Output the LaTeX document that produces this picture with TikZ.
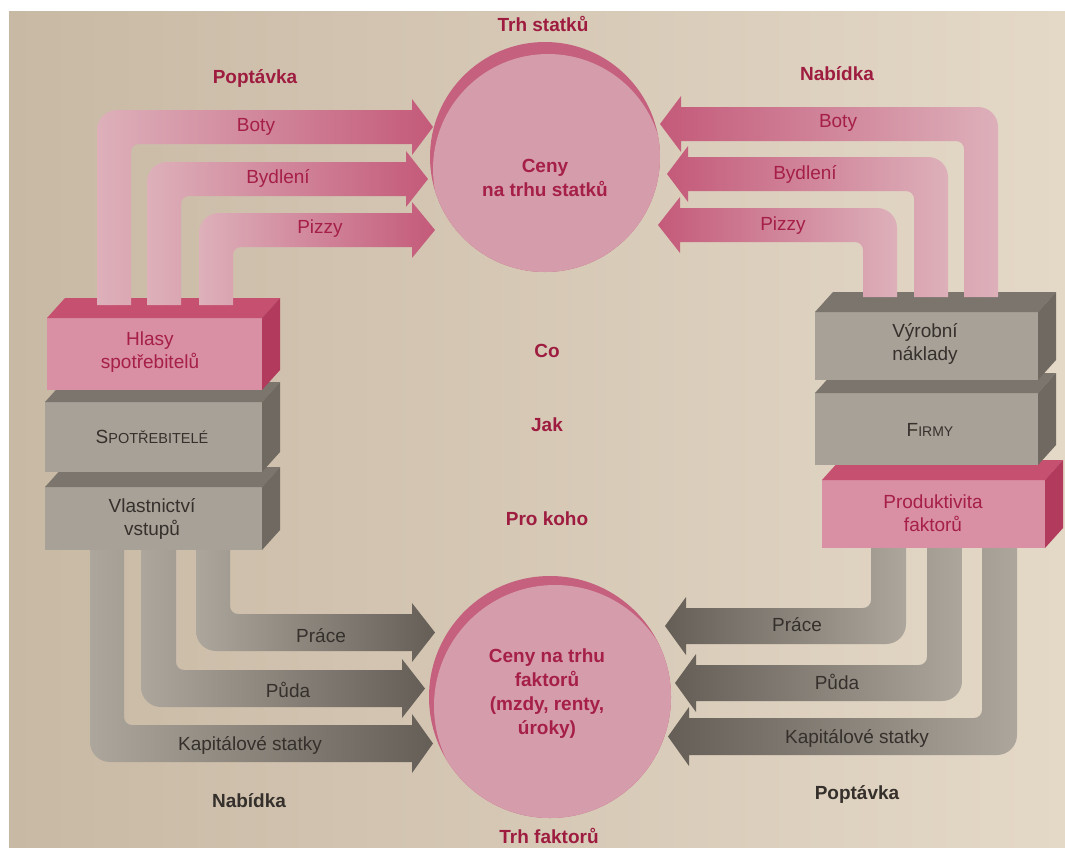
\documentclass[tikz,border=0pt]{standalone}
\usepackage{fontspec}
\setmainfont{Liberation Sans}
\definecolor{pageL}{HTML}{C8B9A4}
\definecolor{pageR}{HTML}{E4D8C7}
\definecolor{pinkLight}{HTML}{DDB0BA}
\definecolor{pinkDark}{HTML}{C45A7A}
\definecolor{pinkText}{HTML}{A51F48}
\definecolor{circFill}{HTML}{D59CAC}
\definecolor{circRim}{HTML}{C5607E}
\definecolor{grayLight}{HTML}{ADA69C}
\definecolor{grayDark}{HTML}{645E57}
\definecolor{boxGray}{HTML}{A8A198}
\definecolor{boxGrayTop}{HTML}{7B756D}
\definecolor{boxGraySide}{HTML}{6F6961}
\definecolor{boxPink}{HTML}{D98FA4}
\definecolor{boxPinkTop}{HTML}{C5506F}
\definecolor{boxPinkSide}{HTML}{B23A5C}
\definecolor{darkText}{HTML}{35302C}
\definecolor{redLabel}{HTML}{9E1C40}

% L-shaped flow arrow, tail going down from a box top, head pointing right
% args: x-left x-right y-top y-bottom y-tail x-headbase x-tip shading
\newcommand{\flowDR}[8]{%
  \shade[#8] (#1,#5) -- (#1,{#3+20}) arc[start angle=180,end angle=270,radius=20]
    -- (#6,#3) -- (#6,{#3-11}) -- (#7,{(#3+#4)/2}) -- (#6,{#4+11}) -- (#6,#4)
    -- ({#2+8},#4) arc[start angle=270,end angle=180,radius=8] -- (#2,#5) -- cycle;}
% mirrored: tail going down on the right, head pointing left
\newcommand{\flowDL}[8]{%
  \shade[#8] (#2,#5) -- (#2,{#3+20}) arc[start angle=0,end angle=-90,radius=20]
    -- (#6,#3) -- (#6,{#3-11}) -- (#7,{(#3+#4)/2}) -- (#6,{#4+11}) -- (#6,#4)
    -- ({#1-8},#4) arc[start angle=270,end angle=360,radius=8] -- (#1,#5) -- cycle;}
% tail going up from a box bottom, head pointing right
\newcommand{\flowUR}[8]{%
  \shade[#8] (#1,#5) -- (#1,{#4-20}) arc[start angle=180,end angle=90,radius=20]
    -- (#6,#4) -- (#6,{#4+11}) -- (#7,{(#3+#4)/2}) -- (#6,{#3-11}) -- (#6,#3)
    -- ({#2+8},#3) arc[start angle=90,end angle=180,radius=8] -- (#2,#5) -- cycle;}
% tail going up on the right, head pointing left
\newcommand{\flowUL}[8]{%
  \shade[#8] (#2,#5) -- (#2,{#4-20}) arc[start angle=0,end angle=90,radius=20]
    -- (#6,#4) -- (#6,{#4+11}) -- (#7,{(#3+#4)/2}) -- (#6,{#3-11}) -- (#6,#3)
    -- ({#1-8},#3) arc[start angle=90,end angle=0,radius=8] -- (#1,#5) -- cycle;}
% 3D block: x0 x1 y0 y1 front top side
\newcommand{\block}[7]{%
  \fill[#5] (#1,#3) rectangle (#2,#4);
  \fill[#6] (#1,#3) -- ({#1+18},{#3-20}) -- ({#2+18},{#3-20}) -- (#2,#3) -- cycle;
  \fill[#7] (#2,#3) -- ({#2+18},{#3-20}) -- ({#2+18},{#4-20}) -- (#2,#4) -- cycle;}

\begin{document}
\begin{tikzpicture}[x=1pt,y=-1pt,
  flowtxt/.style={font=\fontsize{19}{23}\selectfont, inner sep=0pt, align=center},
  pinktxt/.style={flowtxt, text=pinkText},
  graytxt/.style={flowtxt, text=darkText},
  tag/.style={font=\fontsize{19}{23}\selectfont\bfseries, inner sep=0pt, text=redLabel},
  darktag/.style={tag, text=darkText},
  circtxt/.style={font=\fontsize{19}{24}\selectfont\bfseries, inner sep=0pt, align=center, text=pinkText},
  pinkflowR/.style={left color=pinkLight, right color=pinkDark},
  pinkflowL/.style={left color=pinkDark, right color=pinkLight},
  grayflowR/.style={left color=grayLight, right color=grayDark},
  grayflowL/.style={left color=grayDark, right color=grayLight}]

\useasboundingbox (0,0) rectangle (1065,847);
\fill[white] (0,0) rectangle (1065,847);
\shade[left color=pageL, right color=pageR] (9,11) rectangle (1065,847);

% factor flows (behind the blocks)
\flowUR{196}{230}{614}{651}{540}{412}{435}{grayflowR}
\flowUR{141}{176}{670}{707}{540}{402}{425}{grayflowR}
\flowUR{90}{124}{725}{762}{540}{412}{433}{grayflowR}
\flowUL{871}{906}{608}{644}{540}{686}{665}{grayflowL}
\flowUL{927}{962}{665}{701}{540}{696}{675}{grayflowL}
\flowUL{982}{1017}{718}{755}{540}{689}{668}{grayflowL}

% households
\block{45}{262}{487}{550}{boxGray}{boxGrayTop}{boxGraySide}
\block{45}{262}{402}{472}{boxGray}{boxGrayTop}{boxGraySide}
\block{47}{262}{318}{390}{boxPink}{boxPinkTop}{boxPinkSide}
% firms
\block{822}{1045}{480}{548}{boxPink}{boxPinkTop}{boxPinkSide}
\block{815}{1038}{393}{465}{boxGray}{boxGrayTop}{boxGraySide}
\block{815}{1038}{312}{380}{boxGray}{boxGrayTop}{boxGraySide}

% goods flows
\flowDR{97}{131}{110}{144}{305}{412}{433}{pinkflowR}
\flowDR{147}{181}{162}{196}{305}{406}{428}{pinkflowR}
\flowDR{199}{233}{213}{247}{305}{412}{435}{pinkflowR}
\flowDL{964}{998}{107}{141}{297}{681}{660}{pinkflowL}
\flowDL{914}{948}{157}{191}{297}{688}{667}{pinkflowL}
\flowDL{863}{897}{208}{242}{297}{680}{658}{pinkflowL}

% markets
\fill[circRim] (545,157) circle[radius=115];
\begin{scope}
  \clip (545,157) circle[radius=115];
  \fill[circFill] (548,169) circle[radius=115];
\end{scope}
\fill[circRim] (550,697) circle[radius=121];
\begin{scope}
  \clip (550,697) circle[radius=121];
  \fill[circFill] (555,706) circle[radius=121];
\end{scope}

% labels
\node[tag] (trhS) at (543,24) {Trh statků};
\node[tag] (popT) at (255,78) {Poptávka};
\node[tag] (nabT) at (837,74) {Nabídka};
\node[circtxt] (cenyS) at (545,178) {Ceny\\na trhu statků};
\node[tag] (co) at (547,351) {Co};
\node[tag] (jak) at (547,425) {Jak};
\node[tag] (prokoho) at (547,519) {Pro koho};
\node[circtxt] (cenyF) at (547,694) {Ceny na trhu\\faktorů\\(mzdy, renty,\\úroky)};
\node[darktag] (nabB) at (249,801) {Nabídka};
\node[darktag] (popB) at (857,794) {Poptávka};
\node[tag] (trhF) at (549,836) {Trh faktorů};

\node[pinktxt] (botyL) at (256,127) {Boty};
\node[pinktxt] (bydL) at (278,178) {Bydlení};
\node[pinktxt] (pizL) at (320,229) {Pizzy};
\node[pinktxt] (botyR) at (838,123) {Boty};
\node[pinktxt] (bydR) at (805,174) {Bydlení};
\node[pinktxt] (pizR) at (783,226) {Pizzy};

\node[graytxt] (praceL) at (321,636) {Práce};
\node[graytxt] (pudaL) at (288,690) {Půda};
\node[graytxt] (kapL) at (250,745) {Kapitálové statky};
\node[graytxt] (praceR) at (797,625) {Práce};
\node[graytxt] (pudaR) at (837,682) {Půda};
\node[graytxt] (kapR) at (857,738) {Kapitálové statky};

\node[pinktxt] (hlasy) at (150,352) {Hlasy\\spotřebitelů};
\node[graytxt] (spotr) at (152,437) {S{\fontsize{14.5}{17}\selectfont POTŘEBITELÉ}};
\node[graytxt] (vlast) at (152,519) {Vlastnictví\\vstupů};
\node[graytxt] (vyrob) at (925,344) {Výrobní\\náklady};
\node[graytxt] (firmy) at (930,430) {F{\fontsize{14}{17}\selectfont IRMY}};
\node[pinktxt] (produkt) at (933,513) {Produktivita\\faktorů};
\end{tikzpicture}
\end{document}
